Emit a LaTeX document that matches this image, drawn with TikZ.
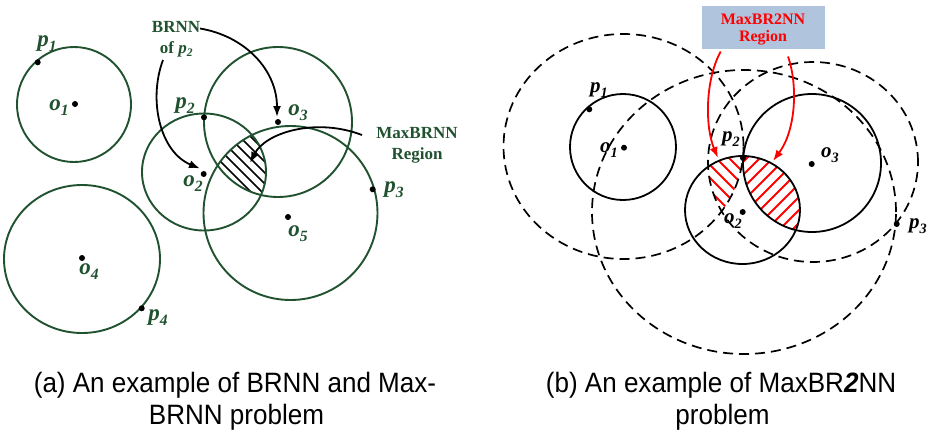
\documentclass[tikz,border=0pt]{standalone}
\usepackage{fontspec}
\usepackage{graphicx}
\setmainfont{Liberation Serif}
\newfontfamily\capfont[FakeStretch=0.93]{Liberation Sans}
\usetikzlibrary{arrows.meta}
\definecolor{dg}{RGB}{33,82,48}
\definecolor{boxblue}{RGB}{176,196,222}
\newcommand\lbl[2]{\textbf{\textit{#1}}\raisebox{-0.22em}{\scalebox{0.68}{\textbf{\textit{#2}}}}}
\begin{document}
\begin{tikzpicture}[x=1pt,y=-1pt,
  gc/.style={draw=dg,line width=1.9pt},
  bc/.style={draw=black,line width=1.8pt},
  dc/.style={draw=black,line width=1.7pt,dash pattern=on 10pt off 6pt},
  dotn/.style={circle,fill=black,inner sep=0pt,minimum size=6pt},
  glab/.style={text=dg,font=\fontsize{23}{26}\selectfont,inner sep=0pt},
  blab/.style={text=black,font=\fontsize{21}{24}\selectfont,inner sep=0pt},
  gtxt/.style={text=dg,font=\fontsize{17}{20}\selectfont\bfseries,inner sep=0pt,anchor=base},
  rtxt/.style={text=red,font=\fontsize{16}{18}\selectfont\bfseries,inner sep=0pt,anchor=base},
  captxt/.style={font=\capfont\fontsize{28}{32}\selectfont,inner sep=0pt,anchor=base},
  arr/.style={-{Latex[length=11pt,width=8pt]},line width=1.8pt},
  rarr/.style={-{Latex[length=11pt,width=8pt]},line width=1.8pt,color=red},
  hatchb/.style={black,line width=1.6pt},
  hatchr/.style={red,line width=1.9pt}]
\useasboundingbox[fill=white] (0,0) rectangle (929,429);

% ---------- left panel ----------
\coordinate (O1) at (74,104.5);
\coordinate (O2) at (204,172);
\coordinate (O3) at (278,122);
\coordinate (O4) at (82,259);
\coordinate (O5) at (290.5,213);

\begin{scope}
  \clip (O2) ellipse [x radius=62pt,y radius=58.5pt];
  \clip (O3) ellipse [x radius=74pt,y radius=75pt];
  \clip (O5) ellipse [x radius=87pt,y radius=87pt];
  \foreach \k in {-8,...,8}
    \draw[hatchb] ({241+11*\k-70},90) -- ({241+11*\k+70},230);
\end{scope}

\draw[gc] (O1) ellipse [x radius=57pt,y radius=57.5pt];
\draw[gc] (O2) ellipse [x radius=62pt,y radius=58.5pt];
\draw[gc] (O3) ellipse [x radius=74pt,y radius=75pt];
\draw[gc] (O4) ellipse [x radius=78pt,y radius=74pt];
\draw[gc] (O5) ellipse [x radius=87pt,y radius=87pt];

\node[dotn] (lo1) at (75,104) {};
\node[dotn] (lo2) at (203.7,174) {};
\node[dotn] (lo3) at (278,122) {};
\node[dotn] (lo4) at (82,258) {};
\node[dotn] (lo5) at (288,217) {};
\node[dotn] (lp1) at (37.7,62.3) {};
\node[dotn] (lp2) at (204,117.3) {};
\node[dotn] (lp3) at (372.7,189.3) {};
\node[dotn] (lp4) at (141.7,308.3) {};

\node[glab] (tp1) at (47,44) {\lbl{p}{1}};
\node[glab] (to1) at (59,108) {\lbl{o}{1}};
\node[glab] (tp2) at (185,106) {\lbl{p}{2}};
\node[glab] (to2) at (193,184) {\lbl{o}{2}};
\node[glab] (to3) at (298,113) {\lbl{o}{3}};
\node[glab] (tp3) at (394,190) {\lbl{p}{3}};
\node[glab] (to5) at (298,234) {\lbl{o}{5}};
\node[glab] (to4) at (89,272) {\lbl{o}{4}};
\node[glab] (tp4) at (158,318) {\lbl{p}{4}};

\node[gtxt] (brnn) at (176,32.3) {BRNN};
\node[gtxt] (ofp) at (176.3,53) {of \lbl{p}{2}};
\node[gtxt] (maxb) at (417,138) {MaxBRNN};
\node[gtxt] (maxr) at (417,159) {Region};

\coordinate (a1s) at (200,28.5);
\coordinate (a1e) at (277,117);
\coordinate (a2s) at (163,60);
\coordinate (a2e) at (200,168.5);
\coordinate (a3s) at (362,135);
\coordinate (a3e) at (250,163);
\draw[arr] (a1s) .. controls (245,36) and (277,70) .. (a1e);
\draw[arr] (a2s) .. controls (148,100) and (160,152) .. (a2e);
\draw[arr] (a3s) .. controls (315,117) and (265,133) .. (a3e);

% ---------- right panel ----------
\coordinate (A) at (623.5,146.5);
\coordinate (B) at (813,162);
\coordinate (C) at (744,212);
\coordinate (S1) at (623,147);
\coordinate (S2) at (742.5,210);
\coordinate (S3) at (812,163);

\begin{scope}
  \clip (S2) ellipse [x radius=57.5pt,y radius=54pt];
  \clip (A) ellipse [x radius=120pt,y radius=112.5pt];
  \clip (B) ellipse [x radius=105pt,y radius=100pt];
  \foreach \k in {-6,...,6}
    \draw[hatchr] ({725+13*\k-60},120) -- ({725+13*\k+60},240);
\end{scope}
\begin{scope}
  \clip (S2) ellipse [x radius=57.5pt,y radius=54pt];
  \clip (S3) ellipse [x radius=69pt,y radius=69pt];
  \foreach \k in {-7,...,7}
    \draw[hatchr] ({772+13*\k-70},268) -- ({772+13*\k+70},128);
\end{scope}

\draw[dc] (A) ellipse [x radius=120pt,y radius=112.5pt];
\draw[dc] (B) ellipse [x radius=105pt,y radius=100pt];
\draw[dc] (C) ellipse [x radius=152pt,y radius=142pt];
\draw[bc] (S1) ellipse [x radius=53pt,y radius=53pt];
\draw[bc] (S2) ellipse [x radius=57.5pt,y radius=54pt];
\draw[bc] (S3) ellipse [x radius=69pt,y radius=69pt];

\node[dotn] (ro1) at (624,147.7) {};
\node[dotn] (ro2) at (742.7,212) {};
\node[dotn] (ro3) at (811.7,164) {};
\node[dotn] (rp1) at (589.3,109.3) {};
\node[dotn] (rp2) at (743,158) {};
\node[dotn] (rp3) at (896.7,224) {};

\node[blab] (sp1) at (599,90) {\lbl{p}{1}};
\node[blab] (so1) at (609,150) {\lbl{o}{1}};
\node[blab] (sp2) at (731,139) {\lbl{p}{2}};
\node[blab] (so2) at (733,221) {\lbl{o}{2}};
\node[blab] (so3) at (830,155) {\lbl{o}{3}};
\node[blab] (sp3) at (918,226) {\lbl{p}{3}};

\node[fill=boxblue,minimum width=123pt,minimum height=43pt,inner sep=0pt] (box) at (763.3,27.7) {};
\node[rtxt] (boxt1) at (763,24) {MaxBR2NN};
\node[rtxt] (boxt2) at (763,41.5) {Region};

\coordinate (r1s) at (720.7,51.5);
\coordinate (r1e) at (718,158);
\coordinate (r2s) at (788,56.5);
\coordinate (r2e) at (773,161);
\draw[rarr] (r1s) .. controls (705,80) and (705,127) .. (r1e);
\draw[rarr] (r2s) .. controls (798,85) and (796,130) .. (r2e);

% ---------- captions ----------
\node[captxt] (capa1) at (235,392) {(a) An example of BRNN and Max-};
\node[captxt] (capa2) at (236.5,424) {BRNN problem};
\node[captxt] (capb1) at (721,392) {(b) An example of MaxBR\textbf{\textit{2}}NN};
\node[captxt] (capb2) at (722.5,424) {problem};
\end{tikzpicture}
\end{document}
